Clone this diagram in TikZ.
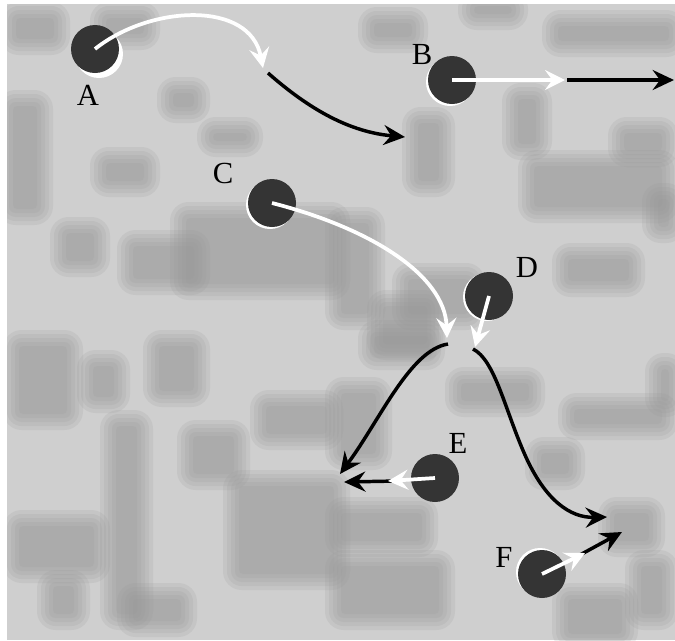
\documentclass[tikz,border=0pt]{standalone}
\usepackage{fontspec}
\setmainfont{Liberation Serif}
\usetikzlibrary{arrows.meta}

\definecolor{bggray}{RGB}{207,207,207}
\definecolor{patchgray}{RGB}{150,150,150}
\definecolor{dotgray}{RGB}{52,52,52}

\tikzset{every picture/.style={line width=0.75pt}}
\tikzset{
  patch/.style={fill=patchgray, fill opacity=0.17},
  particle/.style={circle, fill=dotgray, minimum size=36, inner sep=0pt},
  rim/.style={circle, fill=white, minimum size=36, inner sep=0pt},
  lbl/.style={inner sep=0.75pt, font=\fontsize{23}{25}\selectfont},
  whitearrow/.style={draw=white, line width=2.8pt, -{Stealth[length=15pt,width=15pt,inset=5.5pt]}},
  blackarrow/.style={draw=black, line width=2.6pt, -{Stealth[length=16pt,width=15pt,inset=5.5pt]}}
}
% blurred darker cell of the background
\newcommand{\bgpatch}[4]{%
  \fill[patch, rounded corners=14] (#1-10,#2-10) rectangle (#3+10,#4+10);
  \fill[patch, rounded corners=11] (#1-6,#2-6) rectangle (#3+6,#4+6);
  \fill[patch, rounded corners=8] (#1-2,#2-2) rectangle (#3+2,#4+2);
  \fill[patch, rounded corners=5] (#1+2,#2+2) rectangle (#3-2,#4-2);
  \fill[patch, rounded corners=3] (#1+6,#2+6) rectangle (#3-6,#4-6);
}

\begin{document}
\begin{tikzpicture}[x=0.75pt,y=0.75pt,yscale=-1,xscale=1]
\useasboundingbox (0,0) rectangle (675,640);
\fill[white] (0,0) rectangle (675,640);
%Shape: background
\fill[bggray] (7,4) rectangle (675,640);
\begin{scope}
  \clip (7,4) rectangle (675,640);
  \bgpatch{10}{12}{60}{45}
  \bgpatch{100}{12}{150}{40}
  \bgpatch{7}{100}{43}{215}
  \bgpatch{60}{227}{100}{267}
  \bgpatch{167}{87}{200}{113}
  \bgpatch{207}{127}{253}{147}
  \bgpatch{100}{157}{150}{187}
  \bgpatch{180}{212}{340}{290}
  \bgpatch{127}{240}{200}{285}
  \bgpatch{335}{217}{375}{320}
  \bgpatch{377}{300}{433}{350}
  \bgpatch{368}{17}{418}{43}
  \bgpatch{468}{0}{518}{20}
  \bgpatch{552}{20}{675}{47}
  \bgpatch{412}{117}{445}{187}
  \bgpatch{512}{93}{542}{150}
  \bgpatch{618}{127}{668}{157}
  \bgpatch{528}{160}{668}{213}
  \bgpatch{652}{193}{675}{233}
  \bgpatch{562}{253}{635}{287}
  \bgpatch{402}{273}{475}{320}
  \bgpatch{13}{340}{73}{420}
  \bgpatch{87}{360}{120}{403}
  \bgpatch{153}{340}{200}{397}
  \bgpatch{110}{420}{143}{620}
  \bgpatch{187}{430}{240}{480}
  \bgpatch{233}{480}{340}{580}
  \bgpatch{260}{400}{333}{440}
  \bgpatch{13}{520}{100}{573}
  \bgpatch{47}{580}{80}{620}
  \bgpatch{127}{593}{187}{627}
  \bgpatch{368}{330}{435}{360}
  \bgpatch{455}{377}{535}{407}
  \bgpatch{335}{387}{382}{460}
  \bgpatch{568}{403}{668}{430}
  \bgpatch{535}{447}{575}{480}
  \bgpatch{335}{507}{428}{547}
  \bgpatch{608}{507}{655}{547}
  \bgpatch{335}{560}{445}{620}
  \bgpatch{562}{593}{628}{640}
  \bgpatch{635}{560}{668}{620}
  \bgpatch{655}{363}{675}{407}
\end{scope}

%Shape: particles
\node[rim] at (99,54) {};
\node[particle] (pA) at (95,49) {};
\node[rim] at (450,82) {};
\node[particle] (pB) at (452,80) {};
\node[rim] at (270,205) {};
\node[particle] (pC) at (272,203) {};
\node[rim] at (487,297) {};
\node[particle] (pD) at (489,296) {};
\node[particle] (pE) at (435,478) {};
\node[rim] at (540,572) {};
\node[particle] (pF) at (542,574) {};

% Text Node
\node[lbl] (lA) at (88,95) {A};
\node[lbl] (lB) at (422,54) {B};
\node[lbl] (lC) at (223,173) {C};
\node[lbl] (lD) at (527,267) {D};
\node[lbl] (lE) at (458,443) {E};
\node[lbl] (lF) at (504,557) {F};

% arrow ends
\coordinate (a1) at (263,68);
\coordinate (a2) at (268,73);
\coordinate (a3) at (405,137);
\coordinate (b1) at (565,80);
\coordinate (b2) at (567,80);
\coordinate (b3) at (674,80);
\coordinate (c1) at (447,338);
\coordinate (d1) at (475,347);
\coordinate (s1) at (448,344);
\coordinate (s2) at (340,474);
\coordinate (s3) at (473,349);
\coordinate (s4) at (525,455);
\coordinate (s5) at (607,517);
\coordinate (e1) at (398,481);
\coordinate (e2) at (344,482);
\coordinate (e3) at (388,481);
\coordinate (f1) at (578,556);
\coordinate (f2) at (622,532);
\coordinate (f3) at (585,553);

% black paths
\draw[blackarrow] (a2) .. controls (310,110) and (350,132) .. (a3);
\draw[blackarrow] (b2) -- (b3);
\draw[blackarrow] (s1) .. controls (410,350) and (380,420) .. (s2);
\draw[blackarrow] (s3) .. controls (495,360) and (505,410) .. (s4) .. controls (545,500) and (570,518) .. (s5);
\draw[blackarrow] (e1) -- (e2);
\draw[blackarrow] (f1) -- (f2);

% white paths
\draw[whitearrow] (pA.center) .. controls (150,5) and (250,0) .. (a1);
\draw[whitearrow] (pB.center) -- (b1);
\draw[whitearrow] (pC.center) .. controls (370,228) and (445,275) .. (c1);
\draw[whitearrow] (pD.center) -- (d1);
\draw[whitearrow] (pE.center) -- (e3);
\draw[whitearrow] (pF.center) -- (f3);
\end{tikzpicture}
\end{document}
